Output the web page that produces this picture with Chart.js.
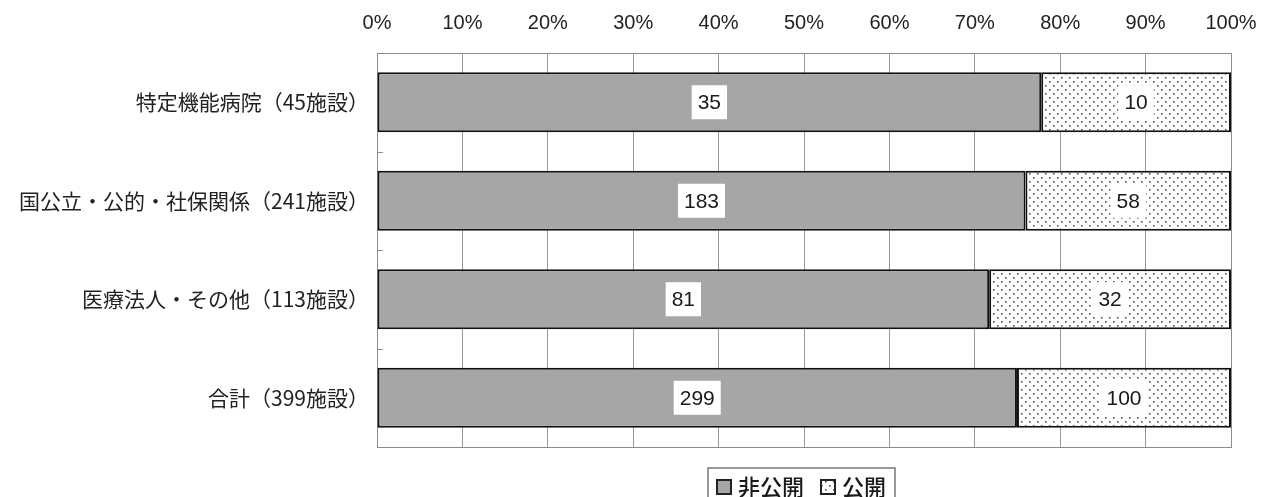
<!DOCTYPE html>
<html>
<head>
<meta charset="utf-8">
<script src="https://cdn.jsdelivr.net/npm/chart.js@4"></script>
<style>
  html, body { margin: 0; padding: 0; background: #fff; }
  #wrap { width: 1265px; height: 497px; }
</style>
</head>
<body>
<div id="wrap"><canvas id="chart"></canvas></div>
<script>
const categories = ['特定機能病院（45施設）', '国公立・公的・社保関係（241施設）', '医療法人・その他（113施設）', '合計（399施設）'];
const seriesNames = ['非公開', '公開'];
const privateCounts = [35, 183, 81, 299];
const publicCounts = [10, 58, 32, 100];
const tickLabels = ['0%', '10%', '20%', '30%', '40%', '50%', '60%', '70%', '80%', '90%', '100%'];

const labelFont = "'Noto Sans CJK JP', 'Noto Sans', sans-serif";
const numFont = "'Liberation Sans Narrow', 'Liberation Sans', Arial, sans-serif";

// share of each row, used for the 100% stack
const totals = privateCounts.map((v, i) => v + publicCounts[i]);
const privateShare = privateCounts.map((v, i) => v / totals[i] * 100);
const publicShare = publicCounts.map((v, i) => v / totals[i] * 100);

function makeDots() {
    const c = document.createElement('canvas');
    c.width = 8; c.height = 8;
    const g = c.getContext('2d');
    g.fillStyle = '#ffffff';
    g.fillRect(0, 0, 8, 8);
    g.fillStyle = '#555555';
    g.fillRect(1, 1, 1.6, 1.6);
    g.fillRect(5, 5, 1.6, 1.6);
    return g.createPattern(c, 'repeat');
}
const dots = makeDots();
const grayFill = '#a6a6a6';

const decorPlugin = {
    id: 'decor',
    beforeDatasetsDraw(chart) {
        const { ctx, chartArea: a, scales } = chart;
        ctx.save();
        ctx.strokeStyle = '#8c8c8c';
        ctx.lineWidth = 1;
        ctx.strokeRect(a.left + 0.5, a.top + 0.5, a.right - a.left, a.bottom - a.top);
        // short inner ticks between categories
        for (let i = 1; i < categories.length; i++) {
            const y = Math.round(scales.y.getPixelForValue(i - 0.5)) + 0.5;
            ctx.beginPath();
            ctx.moveTo(a.left, y);
            ctx.lineTo(a.left + 6, y);
            ctx.stroke();
        }
        ctx.restore();
    },
    afterDatasetsDraw(chart) {
        const { ctx } = chart;
        const counts = [privateCounts, publicCounts];
        ctx.save();
        ctx.font = "21px 'Liberation Sans', Arial, sans-serif";
        ctx.textAlign = 'center';
        ctx.textBaseline = 'middle';
        chart.data.datasets.forEach((ds, di) => {
            chart.getDatasetMeta(di).data.forEach((bar, i) => {
                const cx = (bar.x + bar.base) / 2;
                const cy = bar.y;
                const txt = String(counts[di][i]);
                const w = ctx.measureText(txt).width + 12;
                const h = 34;
                ctx.fillStyle = '#ffffff';
                ctx.fillRect(cx - w / 2, cy - h / 2, w, h);
                ctx.fillStyle = '#1a1a1a';
                ctx.fillText(txt, cx, cy + 1);
            });
        });
        ctx.restore();
    },
    afterDraw(chart) {
        const { ctx } = chart;
        ctx.save();
        ctx.font = '500 22px ' + labelFont;
        ctx.textBaseline = 'middle';
        const fills = [grayFill, dots];
        const box = 14, gap = 7, itemGap = 17, pad = 9;
        let width = pad * 2;
        seriesNames.forEach((n, i) => {
            width += box + gap + ctx.measureText(n).width + (i ? 0 : itemGap);
        });
        const left = 708;
        const top = 468;
        const cy = 487;
        ctx.strokeStyle = '#777';
        ctx.lineWidth = 1.5;
        ctx.strokeRect(left, top, width, 40);
        let x = left + pad;
        seriesNames.forEach((n, i) => {
            ctx.fillStyle = fills[i];
            ctx.fillRect(x, cy - box / 2, box, box);
            ctx.strokeStyle = '#222';
            ctx.lineWidth = 2;
            ctx.strokeRect(x, cy - box / 2, box, box);
            x += box + gap;
            ctx.fillStyle = '#1a1a1a';
            ctx.fillText(n, x, cy);
            x += ctx.measureText(n).width + itemGap;
        });
        ctx.restore();
    }
};

new Chart(document.getElementById('chart'), {
    type: 'bar',
    data: {
        labels: categories,
        datasets: [
            { label: seriesNames[0], data: privateShare, backgroundColor: grayFill },
            { label: seriesNames[1], data: publicShare, backgroundColor: dots }
        ].map(ds => Object.assign(ds, {
            borderColor: '#111111',
            borderWidth: 2,
            borderSkipped: false,
            barPercentage: 0.61,
            categoryPercentage: 1
        }))
    },
    options: {
        indexAxis: 'y',
        responsive: true,
        maintainAspectRatio: false,
        animation: false,
        devicePixelRatio: 1,
        layout: { padding: { left: 0, right: 34, top: 0, bottom: 50 } },
        plugins: {
            legend: { display: false },
            tooltip: { enabled: false }
        },
        scales: {
            x: {
                position: 'top',
                stacked: true,
                min: 0,
                max: 100,
                afterFit(scale) {
                    scale.height = 53;
                    scale.paddingLeft = 0;
                    scale.paddingRight = 0;
                },
                grid: { color: '#999999', lineWidth: 1, drawTicks: false },
                border: { display: false },
                ticks: {
                    stepSize: 10,
                    padding: 18,
                    color: '#222',
                    font: { size: 20, family: numFont },
                    callback: (v, i) => tickLabels[i]
                }
            },
            y: {
                stacked: true,
                afterFit(scale) { scale.width = 377; },
                grid: { display: false, drawTicks: false },
                border: { display: false },
                ticks: {
                    padding: 8,
                    color: '#222',
                    font: { size: 21, family: labelFont }
                }
            }
        }
    },
    plugins: [decorPlugin]
});
</script>
</body>
</html>
